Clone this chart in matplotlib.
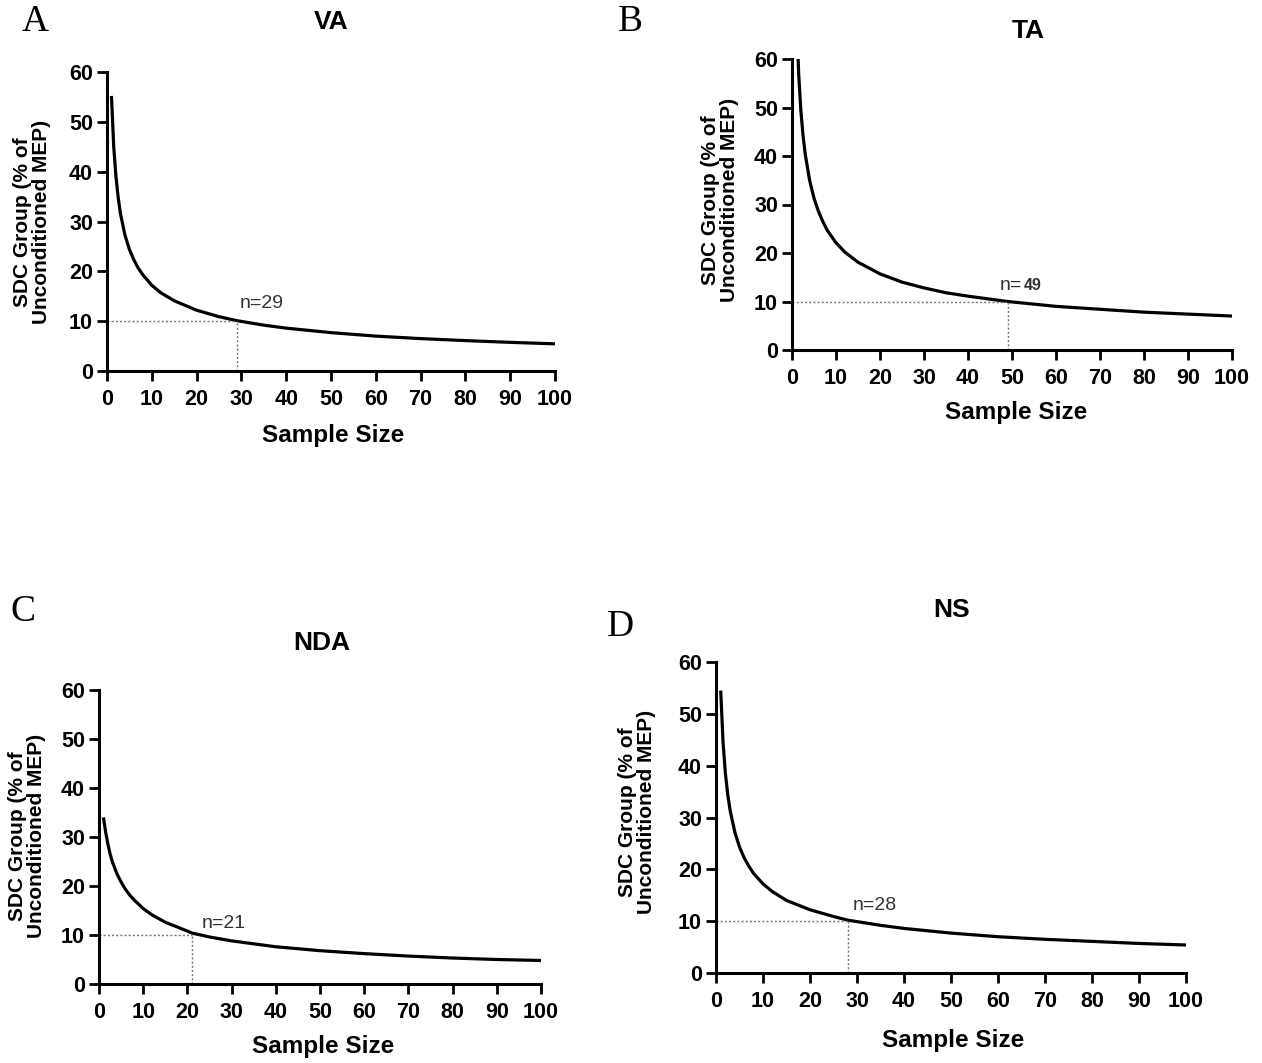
import matplotlib
matplotlib.use("Agg")
import matplotlib.pyplot as plt

# Group smallest detectable change versus sample size for each muscle
sample_size_va = [1, 1.5, 2, 2.5, 3, 4, 5, 6, 7, 8, 10, 12, 15, 20, 25, 29, 35, 40, 50, 60, 70, 80, 90, 100]
sdc_va = [55.2, 45.0, 39.0, 34.8, 31.6, 27.3, 24.4, 22.3, 20.6, 19.3, 17.2, 15.7, 14.1, 12.2, 10.9, 10.1, 9.2, 8.6, 7.7, 7.0, 6.5, 6.1, 5.75, 5.45]

sample_size_ta = [1, 1.5, 2, 2.5, 3, 4, 5, 6, 7, 8, 10, 12, 15, 20, 25, 30, 35, 40, 49, 60, 70, 80, 90, 100]
sdc_ta = [70.0, 57.2, 49.5, 44.3, 40.4, 35.0, 31.3, 28.6, 26.5, 24.7, 22.1, 20.2, 18.1, 15.7, 14.0, 12.8, 11.8, 11.1, 10.0, 9.0, 8.4, 7.8, 7.4, 7.0]

sample_size_nda = [1, 1.5, 2, 2.5, 3, 4, 5, 6, 7, 8, 10, 12, 15, 20, 21, 25, 30, 40, 50, 60, 70, 80, 90, 100]
sdc_nda = [34.0, 31.0, 28.6, 26.6, 25.0, 22.6, 20.8, 19.3, 18.1, 17.1, 15.4, 14.1, 12.6, 10.8, 10.4, 9.6, 8.8, 7.6, 6.8, 6.2, 5.7, 5.3, 5.0, 4.8]

sample_size_ns = [1, 1.5, 2, 2.5, 3, 4, 5, 6, 7, 8, 10, 12, 15, 20, 25, 28, 35, 40, 50, 60, 70, 80, 90, 100]
sdc_ns = [54.5, 44.5, 38.5, 34.4, 31.4, 27.2, 24.3, 22.2, 20.6, 19.2, 17.2, 15.7, 14.0, 12.2, 10.9, 10.2, 9.2, 8.6, 7.7, 7.0, 6.5, 6.1, 5.7, 5.4]

threshold = 10
required_n = {"VA": 29, "TA": 49, "NDA": 21, "NS": 28}

x_ticks = [0, 10, 20, 30, 40, 50, 60, 70, 80, 90, 100]
y_ticks = [0, 10, 20, 30, 40, 50, 60]

W, H = 1262, 1063
fig = plt.figure(figsize=(W / 100, H / 100), dpi=100)

SANS = "Liberation Sans"
SERIF = "Liberation Serif"


def px(x, y):
    return x / W, 1 - y / H


panels = [
    # name, letter, x, y, axes box (l, t, r, b px), title pos, letter pos, xlabel pos, ylabel pos, label offset
    ("VA", "A", sample_size_va, sdc_va, (107, 72, 555, 371), (331, 22), (35, 22), (333, 436), (32, 222), (0.7, 13.5)),
    ("TA", "B", sample_size_ta, sdc_ta, (792, 59, 1232, 350), (1028, 31), (630, 22), (1016, 412), (720, 200), (-1.8, 13.4)),
    ("NDA", "C", sample_size_nda, sdc_nda, (99, 690, 541, 984), (322, 643), (23, 612), (323, 1047), (27, 836), (2.3, 12.4)),
    ("NS", "D", sample_size_ns, sdc_ns, (716, 662, 1186, 973), (952, 610), (620, 627), (953, 1040), (637, 812), (1.0, 13.1)),
]

for name, letter, xs, ys, box, tpos, lpos, xlpos, ylpos, noff in panels:
    l, t, r, b = box
    ax = fig.add_axes([l / W, 1 - b / H, (r - l) / W, (b - t) / H])
    ax.plot(xs, ys, color="black", lw=2.3, solid_capstyle="butt")
    n = required_n[name]
    ax.plot([0, n], [threshold, threshold], color="#777777", lw=1.0, ls=(0, (1.5, 1.5)))
    ax.plot([n, n], [0, threshold], color="#777777", lw=1.0, ls=(0, (1.5, 1.5)))
    if name == "TA":
        lead = ax.text(n + noff[0], noff[1], "n=", fontsize=14, family=SANS,
                       color="#333333", ha="left", va="center")
        ax.annotate(str(n), xy=(1, 0.5), xycoords=lead, xytext=(1.5, 0),
                    textcoords="offset points", fontsize=11.5, family=SANS,
                    fontweight="bold", color="#333333", ha="left", va="center")
    else:
        ax.text(n + noff[0], noff[1], f"n={n}", fontsize=14, family=SANS,
                color="#333333", ha="left", va="center")
    ax.set_xlim(0, 100)
    ax.set_ylim(0, 60)
    ax.set_xticks(x_ticks)
    ax.set_yticks(y_ticks)
    for s in ("top", "right"):
        ax.spines[s].set_visible(False)
    for s in ("left", "bottom"):
        ax.spines[s].set_linewidth(2.2)
    ax.tick_params(axis="both", direction="out", length=7, width=2.0,
                   labelsize=15.5)
    ax.tick_params(axis="x", pad=6)
    ax.tick_params(axis="y", pad=3)
    for lab in ax.get_xticklabels() + ax.get_yticklabels():
        lab.set_fontweight("bold")
        lab.set_family(SANS)

    fig.text(*px(*tpos), name, ha="center", va="center", fontsize=19,
             fontweight="bold", family=SANS)
    fig.text(*px(*lpos), letter, ha="center", va="center", fontsize=27,
             family=SERIF)
    fig.text(*px(*xlpos), "Sample Size", ha="center", va="center", fontsize=17.5,
             fontweight="bold", family=SANS)
    fig.text(*px(*ylpos), "SDC Group (% of\nUnconditioned MEP)", ha="center",
             va="center", rotation=90, fontsize=15, fontweight="bold",
             family=SANS, linespacing=1.05, multialignment="center")

fig.savefig("out.png", dpi=100, facecolor="white")
